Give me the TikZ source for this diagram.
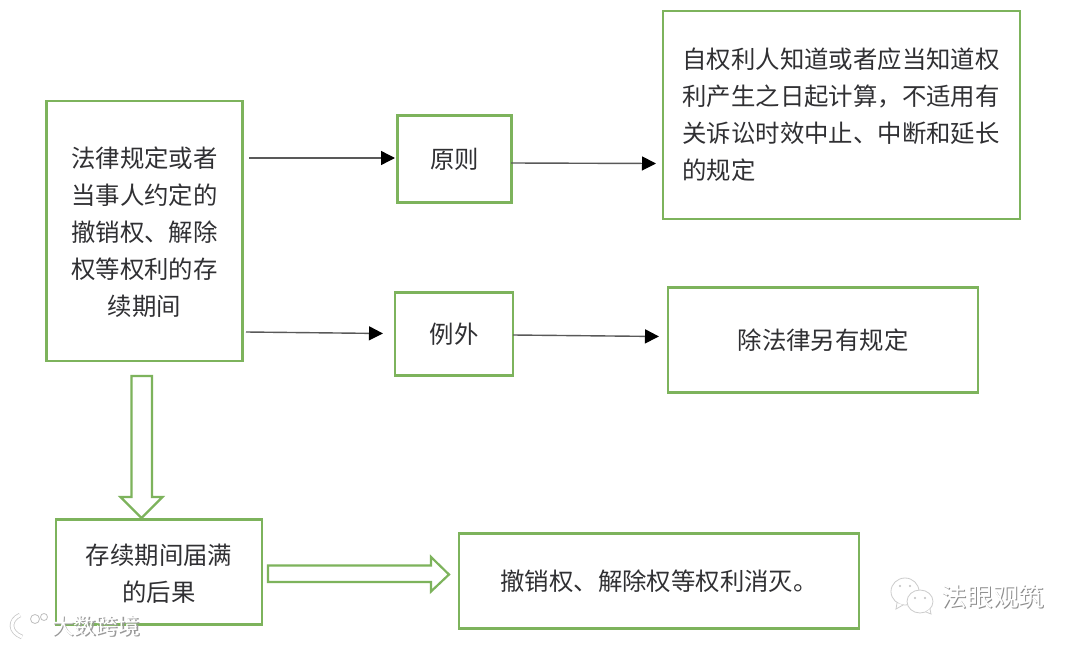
\documentclass[tikz,border=0pt]{standalone}
\usepackage{fontspec}
\setmainfont{Noto Sans CJK SC}
\usetikzlibrary{arrows.meta,calc}
\definecolor{boxgreen}{HTML}{7DB35C}
\definecolor{inktext}{HTML}{303033}
\tikzset{
  x=1pt,y=-1pt,
  greenbox/.style={draw=boxgreen,line width=2.4pt,fill=white,inner sep=0pt,outer sep=0pt,align=center,text=inktext,font=\fontsize{24.4}{37}\selectfont,minimum width=#1},
  thinarrow/.style={draw=black!65,line width=1.4pt,-{Triangle[length=14pt,width=14pt,black]}},
  hollowarrow/.style={draw=boxgreen,line width=2.2pt,fill=white,line join=miter},
  shadowA/.style={text=black!40,font=\fontsize{22}{24}\selectfont,inner sep=0pt},
  whiteA/.style={text=white,font=\fontsize{22}{24}\selectfont,inner sep=0pt},
  shadowB/.style={text=black!45,font=\fontsize{25.7}{28}\selectfont,inner sep=0pt},
  whiteB/.style={text=white,font=\fontsize{25.7}{28}\selectfont,inner sep=0pt},
  bubble/.style={draw=black!20,line width=0.8pt,fill=white},
  eyedot/.style={fill=black!25},
  logoline/.style={draw=black!25,line width=0.8pt,fill=white},
}
\begin{document}
\begin{tikzpicture}
\useasboundingbox (0,0) rectangle (1080,645);
\fill[white] (0,0) rectangle (1080,645);
\node[greenbox=196pt,minimum height=260pt,anchor=center] (law) at (144.5,231) {\rule{0pt}{24pt}法律规定或者\\当事人约定的\\撤销权、解除\\权等权利的存\\续期间};
\node[greenbox=114pt,minimum height=87pt] (yuanze) at (454.5,159) {原则};
\node[greenbox=357pt,minimum height=208pt] (rule) at (841.5,115) {\parbox{318pt}{\raggedright 自权利人知道或者应当知道权\\利产生之日起计算，不适用有\\关诉讼时效中止、中断和延长\\的规定}};
\node[greenbox=118pt,minimum height=83pt] (liwai) at (454,334) {例外};
\node[greenbox=310pt,minimum height=105pt] (except) at (823,340) {除法律另有规定};
\node[greenbox=206pt,minimum height=105pt] (expiry) at (159,572) {\rule{0pt}{24pt}存续期间届满\\的后果};
\node[greenbox=400pt,minimum height=95pt] (extinct) at (659,581) {撤销权、解除权等权利消灭。};
\coordinate (a1s) at (249,158);
\coordinate (a1e) at (395,158);
\coordinate (a2s) at (511,163);
\coordinate (a2e) at (656,163.5);
\coordinate (a3s) at (246,332);
\coordinate (a3e) at (383,333.5);
\coordinate (a4s) at (513,335);
\coordinate (a4e) at (659,336.5);
\draw[thinarrow] (a1s) -- (a1e);
\draw[thinarrow] (a2s) -- (a2e);
\draw[thinarrow] (a3s) -- (a3e);
\draw[thinarrow] (a4s) -- (a4e);
\draw[hollowarrow] (131.5,376) -- (152,376) -- (152,497) -- (162.5,497) -- (141.5,518) -- (120.5,497) -- (131.5,497) -- cycle;
\draw[hollowarrow] (268,565.5) -- (431,565.5) -- (431,557) -- (449,574.5) -- (431,591.5) -- (431,582) -- (268,582) -- cycle;
% watermarks
\draw[line width=4.5pt,black!22] (20,615) .. controls (9,620) and (9,632) .. (22,637);
\draw[line width=3pt,white] (20,615) .. controls (9,620) and (9,632) .. (22,637);
\draw[logoline] (35,619) circle (4.5);
\draw[logoline] (44,617) circle (3.5);
\node[shadowA] (wm1s) at (97,627) {大数跨境};
\node[whiteA] (wm1) at (96,626) {大数跨境};
\draw[bubble] (905,591.5) ellipse (14 and 13.5);
\draw[bubble] (897,603) -- (896,609) -- (903,605);
\fill[eyedot] (900,586) circle (1.1) (910,586) circle (1.1);
\draw[bubble] (920,601.5) ellipse (13 and 11.5);
\draw[bubble] (926,612) -- (931,614) -- (930,609);
\fill[eyedot] (915,598) circle (1.1) (925,598) circle (1.1);
\node[shadowB] (wm2s) at (994,598) {法眼观筑};
\node[whiteB] (wm2) at (993,597) {法眼观筑};
\end{tikzpicture}
\end{document}
